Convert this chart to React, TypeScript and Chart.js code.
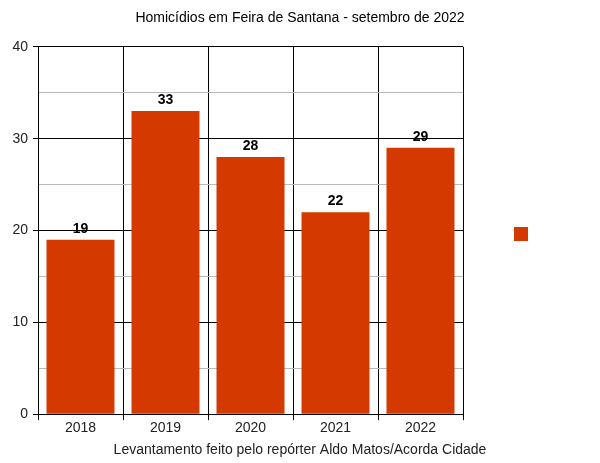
import { useEffect, useRef } from 'react';
import { Chart, registerables } from 'chart.js';

Chart.register(...registerables);

const chartTitle = 'Homicídios em Feira de Santana - setembro de 2022';
const xAxisTitle = 'Levantamento feito pelo repórter Aldo Matos/Acorda Cidade';
const years = ['2018', '2019', '2020', '2021', '2022'];
const homicides = [19, 33, 28, 22, 29];
const yMin = 0;
const yMax = 40;
const yStep = 5;
const yLabelStep = 10;

const BAR_COLOR = '#d43a00';
const FONT = "'Liberation Sans', Arial, sans-serif";

const valueLabels = {
  id: 'valueLabels',
  afterDatasetsDraw(chart: any) {
    const ctx = chart.ctx;
    const meta = chart.getDatasetMeta(0);
    ctx.save();
    ctx.font = `bold 14px ${FONT}`;
    ctx.fillStyle = '#000';
    ctx.textAlign = 'center';
    ctx.textBaseline = 'alphabetic';
    meta.data.forEach((bar: any, i: number) => {
      ctx.fillText(String(chart.data.datasets[0].data[i]), bar.x, bar.y - 7);
    });
    ctx.restore();
  },
};

const squareLegend = {
  id: 'squareLegend',
  afterDraw(chart: any) {
    const ctx = chart.ctx;
    const a = chart.chartArea;
    ctx.save();
    ctx.fillStyle = chart.data.datasets[0].backgroundColor;
    ctx.fillRect(a.right + 51, 227, 14, 14);
    ctx.restore();
  },
};

export default function App() {
  const ref = useRef<HTMLCanvasElement>(null);
  useEffect(() => {
    document.body.style.margin = '0';
    const chart = new Chart(ref.current!, {
      type: 'bar',
      data: {
        labels: years,
        datasets: [
          {
            data: homicides,
            backgroundColor: BAR_COLOR,
            borderWidth: 0,
            barPercentage: 0.8,
            categoryPercentage: 1,
          },
        ],
      },
      options: {
        responsive: false,
        animation: false,
        layout: { padding: 0 },
        plugins: {
          legend: { display: false },
          tooltip: { enabled: false },
          title: {
            display: true,
            text: chartTitle,
            color: '#000',
            font: { family: FONT, size: 14, weight: 'normal' },
            padding: { top: 10, bottom: 20 },
          },
          subtitle: {
            display: true,
            position: 'bottom',
            text: xAxisTitle,
            color: '#222',
            font: { family: FONT, size: 14, weight: 'normal' },
            padding: { top: 0, bottom: 4 },
          },
        },
        scales: {
          x: {
            afterFit: (s: any) => {
              s.height = 28;
            },
            grid: {
              display: true,
              offset: true,
              color: '#000',
              lineWidth: 1,
              tickLength: 6,
              drawTicks: true,
            },
            border: { display: true, color: '#000' },
            ticks: {
              color: '#222',
              padding: 0,
              font: { family: FONT, size: 14 },
            },
          },
          y: {
            min: yMin,
            max: yMax,
            afterFit: (s: any) => {
              s.width = 38;
            },
            ticks: {
              stepSize: yStep,
              color: '#222',
              padding: 5,
              font: { family: FONT, size: 14 },
              callback: (v: any) => (Number(v) % yLabelStep === 0 ? String(v) : ''),
            },
            grid: {
              color: (c: any) => (c.tick && c.tick.value % yLabelStep === 0 ? '#000' : '#bbbbbb'),
              tickColor: (c: any) => (c.tick && c.tick.value % yLabelStep === 0 ? '#000' : 'rgba(0,0,0,0)'),
              tickLength: 5,
              lineWidth: 1,
            },
            border: { display: true, color: '#000' },
          },
          legendSpace: {
            type: 'linear',
            position: 'right',
            min: 0,
            max: 1,
            afterFit: (s: any) => {
              s.width = 137;
            },
            grid: { display: false },
            border: { display: false },
            ticks: { display: false },
          },
        },
      },
      plugins: [valueLabels, squareLegend],
    });
    return () => chart.destroy();
  }, []);
  return <canvas ref={ref} width={600} height={463} />;
}
